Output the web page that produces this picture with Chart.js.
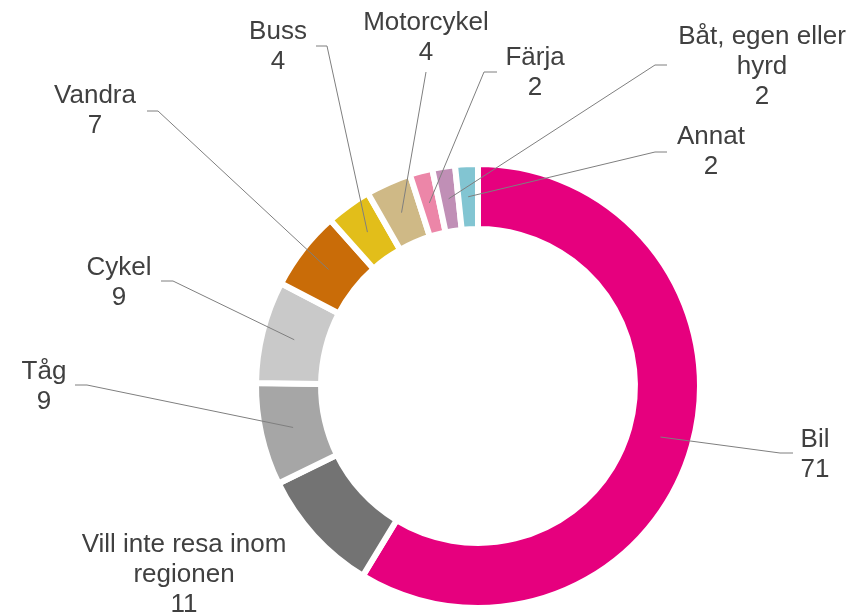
<!DOCTYPE html>
<html>
<head>
<meta charset="utf-8">
<script src="https://cdn.jsdelivr.net/npm/chart.js@4/dist/chart.umd.min.js"></script>
<style>
  html, body { margin: 0; padding: 0; background: #ffffff; }
  #wrap { width: 851px; height: 615px; }
</style>
</head>
<body>
<div id="wrap"><canvas id="c" width="851" height="615"></canvas></div>
<script>
// ---- data ----
const categories = ['Bil', 'Vill inte resa inom regionen', 'Tåg', 'Cykel', 'Vandra', 'Buss', 'Motorcykel', 'Färja', 'Båt, egen eller hyrd', 'Annat'];
const values = [71, 11, 9, 9, 7, 4, 4, 2, 2, 2];
const colors = ['#E6007E', '#737373', '#A6A6A6', '#C9C9C9', '#C96C08', '#E2BE1A', '#CFB986', '#EC86A8', '#C08FB6', '#82C5D2'];

// ---- label layout (text centre x, first line centre y, wrap width, leader elbow x/y, leader end x/y) ----
const labelLayout = [
  { tx: 815, ty: 440, wrap: 200, elbow: [780, 453], end: [793, 453] },
  { tx: 184, ty: 545, wrap: 215, elbow: null, end: null },
  { tx: 44,  ty: 372, wrap: 200, elbow: [87, 385],  end: [75, 385] },
  { tx: 119, ty: 268, wrap: 200, elbow: [173, 281], end: [161, 281] },
  { tx: 95,  ty: 96,  wrap: 200, elbow: [158, 111], end: [147, 111] },
  { tx: 278, ty: 32,  wrap: 200, elbow: [327, 46],  end: [316, 46] },
  { tx: 426, ty: 23,  wrap: 200, elbow: [426, 72],  end: [426, 72] },
  { tx: 535, ty: 58,  wrap: 200, elbow: [484, 72],  end: [497, 72] },
  { tx: 762, ty: 37,  wrap: 178, elbow: [655, 65],  end: [667, 65] },
  { tx: 711, ty: 137, wrap: 200, elbow: [655, 152], end: [667, 152] }
];

const FONT = '26px "Liberation Sans", Arial, sans-serif';
const LINE_H = 30;

function wrapText(ctx, text, maxW) {
  const words = text.split(' ');
  const lines = [];
  let cur = '';
  for (const w of words) {
    const t = cur ? cur + ' ' + w : w;
    if (ctx.measureText(t).width > maxW && cur) { lines.push(cur); cur = w; }
    else cur = t;
  }
  if (cur) lines.push(cur);
  return lines;
}

const labelPlugin = {
  id: 'outLabels',
  afterDatasetsDraw(chart) {
    const ctx = chart.ctx;
    const meta = chart.getDatasetMeta(0);
    const ds = chart.data.datasets[0];
    ctx.save();
    ctx.font = FONT;
    ctx.textAlign = 'center';
    ctx.textBaseline = 'middle';
    meta.data.forEach((arc, i) => {
      const p = arc.getProps(['x', 'y', 'startAngle', 'endAngle', 'innerRadius', 'outerRadius'], true);
      const mid = (p.startAngle + p.endAngle) / 2;
      const r = (p.innerRadius + p.outerRadius) / 2;
      const sx = p.x + Math.cos(mid) * r;
      const sy = p.y + Math.sin(mid) * r;
      const L = labelLayout[i];
      if (L.elbow) {
        ctx.strokeStyle = '#7F7F7F';
        ctx.lineWidth = 1;
        ctx.beginPath();
        ctx.moveTo(sx, sy);
        ctx.lineTo(L.elbow[0], L.elbow[1]);
        ctx.lineTo(L.end[0], L.end[1]);
        ctx.stroke();
      }
      const lines = wrapText(ctx, chart.data.labels[i], L.wrap);
      lines.push(String(ds.data[i]));
      ctx.fillStyle = '#404040';
      lines.forEach((ln, k) => ctx.fillText(ln, L.tx, L.ty + k * LINE_H));
    });
    ctx.restore();
  }
};

new Chart(document.getElementById('c'), {
  type: 'doughnut',
  data: {
    labels: categories,
    datasets: [{
      data: values,
      backgroundColor: colors,
      borderColor: '#ffffff',
      borderWidth: 6,
      borderAlign: 'center',
      borderJoinStyle: 'miter'
    }]
  },
  options: {
    responsive: false,
    animation: false,
    cutout: '70.7%',
    layout: { padding: { left: 253, top: 161, right: 148, bottom: 4 } },
    plugins: { legend: { display: false }, tooltip: { enabled: false } }
  },
  plugins: [labelPlugin]
});
</script>
</body>
</html>
